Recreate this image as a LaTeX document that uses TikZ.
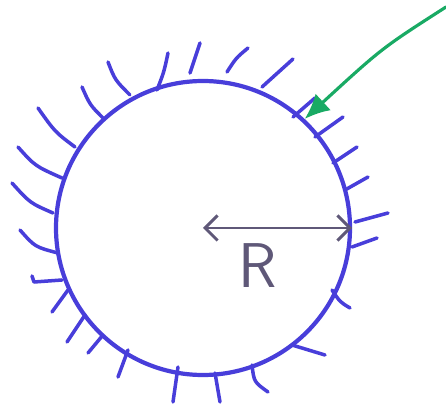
\documentclass[tikz,border=0pt]{standalone}
\usetikzlibrary{arrows.meta}
\definecolor{penblue}{RGB}{72,62,218}
\definecolor{pengreen}{RGB}{25,170,100}
\definecolor{pengray}{RGB}{95,88,120}

\begin{document}
\begin{tikzpicture}[x=0.2mm,y=-0.2mm,line join=round,line cap=round,
	hatch/.style={draw=penblue,line width=2pt}]
	\useasboundingbox (0,0) rectangle (446,409);
	% Body (circle)
	\node[circle,draw=penblue,line width=2.4pt,minimum size=58.8mm,inner sep=0pt] (body) at (203,228) {};
	
	% Hatching, top
	\draw[hatch] (157,90) .. controls (164,72) .. (168,53);
	\draw[hatch] (190,73) .. controls (196,58) .. (200,43);
	\draw[hatch] (227,72) .. controls (236,58) .. (248,48);
	\draw[hatch] (262,87) -- (293,59);
	\draw[hatch] (293,117) -- (315,98);
	% Hatching, right
	\draw[hatch] (315,137) -- (343,117);
	\draw[hatch] (333,163) -- (357,147);
	\draw[hatch] (345,190) -- (368,177);
	\draw[hatch] (355,222) -- (388,213);
	\draw[hatch] (352,247) -- (377,238);
	\draw[hatch] (332,290) .. controls (340,302) .. (350,308);
	% Hatching, bottom
	\draw[hatch] (292,345) -- (325,355);
	\draw[hatch] (252,365) .. controls (254,382) .. (268,392);
	\draw[hatch] (215,373) -- (220,402);
	\draw[hatch] (178,367) -- (173,402);
	\draw[hatch] (128,350) -- (118,377);
	\draw[hatch] (103,335) -- (88,353);
	\draw[hatch] (85,315) -- (67,342);
	% Hatching, left
	\draw[hatch] (68,290) -- (52,312);
	\draw[hatch] (62,280) -- (34,282) -- (32,276);
	\draw[hatch] (58,253) .. controls (35,247) .. (20,230);
	\draw[hatch] (53,213) .. controls (30,203) .. (12,183);
	\draw[hatch] (62,178) .. controls (35,166) .. (18,147);
	\draw[hatch] (75,147) .. controls (55,132) .. (38,108);
	\draw[hatch] (103,118) .. controls (90,105) .. (82,87);
	\draw[hatch] (130,95) .. controls (115,80) .. (108,62);
	
	% Radius
	\draw[pengray,line width=1.7pt,{Straight Barb[length=2.5mm,width=5mm]}-{Straight Barb[length=2.5mm,width=5mm]}] (body.center) -- (body.east);
	\node[pengray,font=\sffamily\fontsize{36}{40}\selectfont] (radius) at (258,266) {R};
	
	% Pointer
	\coordinate (tail) at (446,7);
	\draw[pengreen,line width=1.8pt,-{Latex[length=5mm,width=4.5mm]}] (tail) .. controls (382,48) .. (body.47);
\end{tikzpicture}
\end{document}
